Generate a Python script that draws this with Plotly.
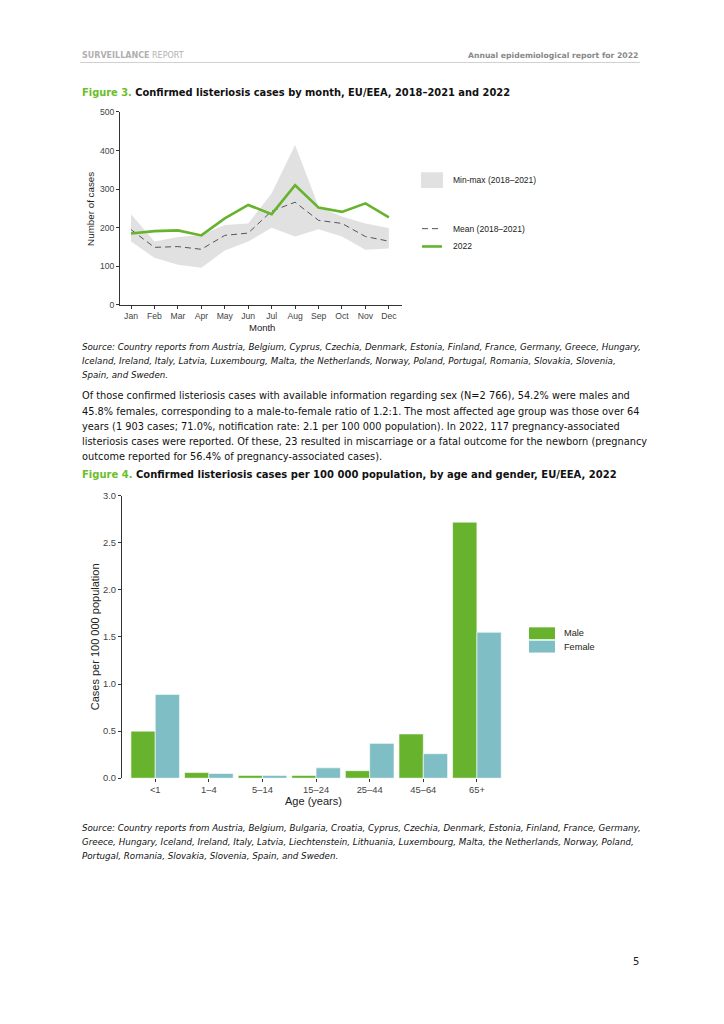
import plotly.graph_objects as go

W, H = 724, 1024
OFF = 8  # default page margin of the html body

# ---------------- data ----------------
months = ["Jan", "Feb", "Mar", "Apr", "May", "Jun", "Jul", "Aug", "Sep", "Oct", "Nov", "Dec"]
cases_2022 = [185, 191, 193, 180, 224, 259, 235, 310, 252, 241, 263, 227]
mean_18_21 = [195, 149, 151, 144, 180, 186, 243, 266, 219, 211, 177, 165]
max_18_21 = [235, 164, 176, 181, 207, 211, 289, 414, 255, 229, 211, 199]
min_18_21 = [164, 122, 104, 96, 141, 164, 200, 177, 196, 177, 143, 146]

age_groups = ["<1", "1\u20134", "5\u201314", "15\u201324", "25\u201344", "45\u201364", "65+"]
male_rate = [0.50, 0.06, 0.03, 0.03, 0.08, 0.47, 2.72]
female_rate = [0.89, 0.05, 0.03, 0.11, 0.37, 0.26, 1.55]

GREEN = "#67B32E"
TEAL = "#7FBEC4"
BAND = "#E1E1E1"
AX = "#333333"
LF = "Liberation Sans, Arial, sans-serif"
TEXTF = "DejaVu Sans, Verdana, sans-serif"
TICK1 = dict(family=LF, size=8.6, color="#444444")
TICK2 = dict(family=LF, size=9.4, color="#444444")


def px(x, y):
    return (x - OFF) / W, 1 - (y - OFF) / H


fig = go.Figure()

# ---------------- Figure 3 ----------------
fig.add_trace(go.Scatter(x=months, y=min_18_21, mode="lines", line=dict(width=0, color=BAND),
                         showlegend=False, hoverinfo="skip", xaxis="x", yaxis="y"))
fig.add_trace(go.Scatter(x=months, y=max_18_21, mode="lines", line=dict(width=0, color=BAND),
                         fill="tonexty", fillcolor=BAND, name="Min-max (2018\u20132021)",
                         showlegend=False, xaxis="x", yaxis="y"))
fig.add_trace(go.Scatter(x=months, y=mean_18_21, mode="lines",
                         line=dict(color="#555555", width=1, dash="6px,4px"),
                         name="Mean (2018\u20132021)", showlegend=False, xaxis="x", yaxis="y"))
fig.add_trace(go.Scatter(x=months, y=cases_2022, mode="lines",
                         line=dict(color=GREEN, width=2.6),
                         name="2022", showlegend=False, xaxis="x", yaxis="y"))

# ---------------- Figure 4 ----------------
fig.add_trace(go.Bar(x=age_groups, y=male_rate, name="Male",
                     marker=dict(color=GREEN, line=dict(color="white", width=0.6)),
                     showlegend=False, xaxis="x2", yaxis="y2"))
fig.add_trace(go.Bar(x=age_groups, y=female_rate, name="Female",
                     marker=dict(color=TEAL, line=dict(color="white", width=0.6)),
                     showlegend=False, xaxis="x2", yaxis="y2"))

x1d = [px(120, 0)[0], px(402, 0)[0]]
y1d = [px(0, 302)[1], px(0, 107)[1]]
x2d = [px(122, 0)[0], px(508, 0)[0]]
y2d = [px(0, 780.5)[1], px(0, 495)[1]]

fig.update_layout(
    width=W, height=H, margin=dict(l=0, r=0, t=0, b=0),
    paper_bgcolor="white", plot_bgcolor="white",
    barmode="group", bargap=0.093, bargroupgap=0,
    xaxis=dict(domain=x1d, anchor="y", range=[-0.47, 11.56], showline=True, linecolor=AX, linewidth=1,
               ticks="outside", ticklen=3, tickcolor=AX, tickfont=TICK1, showgrid=False, zeroline=False),
    yaxis=dict(domain=y1d, anchor="x", range=[0, 500], dtick=100, showline=True, linecolor=AX, linewidth=1,
               ticks="outside", ticklen=3, tickcolor=AX, tickfont=TICK1, showgrid=False, zeroline=False),
    xaxis2=dict(domain=x2d, anchor="y2", range=[-0.62, 6.58], showline=False,
                ticks="outside", ticklen=3, tickcolor=AX, tickfont=TICK2, showgrid=False, zeroline=False),
    yaxis2=dict(domain=y2d, anchor="x2", range=[0, 3.0], dtick=0.5, tickformat=".1f", showline=True,
                linecolor=AX, linewidth=1.2, ticks="outside", ticklen=3, tickcolor=AX, tickfont=TICK2,
                showgrid=False, zeroline=False),
)

ann = []
shapes = []


def text(x, y, s, size=9, color="#111", anchor="left", family=TEXTF, angle=0):
    ax, ay = px(x, y)
    ann.append(dict(x=ax, y=ay, xref="paper", yref="paper", text=s, showarrow=False,
                    xanchor=anchor, yanchor="middle", align="left", textangle=angle,
                    font=dict(family=family, size=size, color=color)))


def hline(x0, x1, y, color, width, dash=None):
    a, b = px(x0, y)
    c, _ = px(x1, y)
    ln = dict(color=color, width=width)
    if dash:
        ln["dash"] = dash
    shapes.append(dict(type="line", xref="paper", yref="paper", x0=a, x1=c, y0=b, y1=b, line=ln))


def rect(x0, y0, x1, y1, color):
    a, b = px(x0, y0)
    c, d = px(x1, y1)
    shapes.append(dict(type="rect", xref="paper", yref="paper", x0=a, x1=c, y0=d, y1=b,
                       fillcolor=color, line=dict(width=0)))


# header
text(80, 50, "<b>SURVEILLANCE</b> REPORT", size=8, color="#B0B0B0")
text(640, 50, "<b>Annual epidemiological report for 2022</b>", size=7.7, color="#888888", anchor="right")
hline(80, 640, 57, "#D0D0D0", 1)

# figure titles
text(80, 87, "<b><span style='color:#6CBE2B'>Figure 3.</span> Confirmed listeriosis cases by month, EU/EEA, 2018\u20132021 and 2022</b>", size=9.9)
text(80, 473, "<b><span style='color:#6CBE2B'>Figure 4.</span> Confirmed listeriosis cases per 100 000 population, by age and gender, EU/EEA, 2022</b>", size=10)

# axis titles
text(262, 325, "Month", size=9.5, color="#222", anchor="center", family=LF)
text(91, 205, "Number of cases", size=9.8, color="#222", anchor="center", family=LF, angle=-90)
text(313, 804, "Age (years)", size=11, color="#222", anchor="center", family=LF)
text(95, 638, "Cases per 100 000 population", size=11, color="#222", anchor="center", family=LF, angle=-90)

# source 1
src1 = ["<i>Source: Country reports from Austria, Belgium, Cyprus, Czechia, Denmark, Estonia, Finland, France, Germany, Greece, Hungary,</i>",
        "<i>Iceland, Ireland, Italy, Latvia, Luxembourg, Malta, the Netherlands, Norway, Poland, Portugal, Romania, Slovakia, Slovenia,</i>",
        "<i>Spain, and Sweden.</i>"]
for i, s in enumerate(src1):
    text(80, 345 + i * 14, s, size=8.7)

para = ["Of those confirmed listeriosis cases with available information regarding sex (N=2 766), 54.2% were males and",
        "45.8% females, corresponding to a male-to-female ratio of 1.2:1. The most affected age group was those over 64",
        "years (1 903 cases; 71.0%, notification rate: 2.1 per 100 000 population). In 2022, 117 pregnancy-associated",
        "listeriosis cases were reported. Of these, 23 resulted in miscarriage or a fatal outcome for the newborn (pregnancy",
        "outcome reported for 56.4% of pregnancy-associated cases)."]
for i, s in enumerate(para):
    text(80, 394 + i * 15.4, s, size=9.8)

src2 = ["<i>Source: Country reports from Austria, Belgium, Bulgaria, Croatia, Cyprus, Czechia, Denmark, Estonia, Finland, France, Germany,</i>",
        "<i>Greece, Hungary, Iceland, Ireland, Italy, Latvia, Liechtenstein, Lithuania, Luxembourg, Malta, the Netherlands, Norway, Poland,</i>",
        "<i>Portugal, Romania, Slovakia, Slovenia, Spain, and Sweden.</i>"]
for i, s in enumerate(src2):
    text(80, 831 + i * 14, s, size=8.7)

text(641, 966, "5", size=10, color="#222", anchor="right")

# legend figure 3
rect(421, 168, 443, 184, BAND)
text(451, 176, "Min-max (2018\u20132021)", size=8.5, color="#222", family=LF)
hline(422, 442, 225, "#555555", 1, "6px,4px")
text(451, 225, "Mean (2018\u20132021)", size=8.5, color="#222", family=LF)
hline(422, 442, 243, GREEN, 2.6)
text(451, 243, "2022", size=8.5, color="#222", family=LF)

# legend figure 4
for (y0, y1, col, lab) in [(628, 640, GREEN, "Male"), (641.5, 653.5, TEAL, "Female")]:
    rect(529, y0, 555, y1, col)
    text(562, (y0 + y1) / 2, lab, size=9.2, color="#222", family=LF)

fig.update_layout(annotations=ann, shapes=shapes)
fig.write_html("out.html")
